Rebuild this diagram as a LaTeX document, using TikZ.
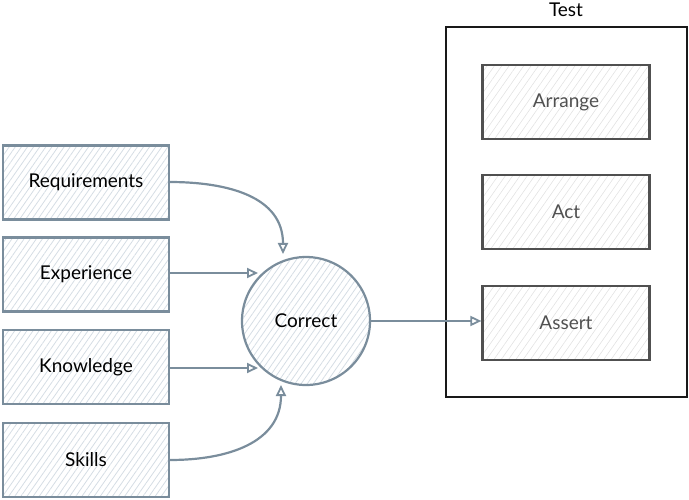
\documentclass[tikz,border=0pt]{standalone}
\usepackage{fontspec}
\setmainfont{Lato}
\usetikzlibrary{patterns.meta,arrows.meta}
\definecolor{slate}{HTML}{7A8D9C}
\definecolor{hatchL}{HTML}{D5DDE4}
\definecolor{hatchR}{HTML}{E2E2E2}
\definecolor{darkgr}{HTML}{505050}
\begin{document}
\begin{tikzpicture}[x=1pt,y=-1pt,
  lbl/.style={font=\fontsize{19}{22}\selectfont},
  srcbox/.style={lbl,draw=slate,line width=2.2pt,pattern={Lines[angle=55,distance=5pt,line width=0.8pt]},pattern color=hatchL,
    minimum width=166pt,minimum height=74pt,inner sep=0pt},
  stepbox/.style={lbl,draw=darkgr,line width=2.2pt,pattern={Lines[angle=55,distance=6pt,line width=0.6pt]},pattern color=hatchR,
    minimum width=167pt,minimum height=74pt,inner sep=0pt,text=darkgr},
  hub/.style={lbl,circle,draw=slate,line width=2.2pt,pattern={Lines[angle=55,distance=5pt,line width=0.8pt]},pattern color=hatchL,
    minimum size=128pt,inner sep=0pt},
  frame/.style={draw=black!90,line width=2.2pt,minimum width=241pt,minimum height=370pt,inner sep=0pt},
  conn/.style={draw=slate,line width=2.2pt,-{Triangle[open,length=11pt,width=10pt,line width=1.8pt]}},
]
\useasboundingbox (0,0) rectangle (689,500);
\node[frame] (test) at (566.5,212) {};
\node[lbl] (testlbl) at (566,10) {Test};
\node[stepbox] (arrange) at (566,102) {Arrange};
\node[stepbox] (act) at (566,212) {Act};
\node[stepbox] (assert) at (566,323) {Assert};

\node[srcbox] (req) at (86,182.5) {Requirements};
\node[srcbox] (exp) at (86,274.5) {Experience};
\node[srcbox] (know) at (86,367) {Knowledge};
\node[srcbox] (skills) at (86,460) {Skills};

\node[hub] (correct) at (306,321) {Correct};

\coordinate (reqend) at (283,254);
\coordinate (expend) at (258,273);
\coordinate (knowend) at (258,368);
\coordinate (skillsend) at (281,385);

\draw[conn] (req.east |- 0,182) to[out=0,in=90,looseness=1.1] (reqend);
\draw[conn] (exp.east |- 0,273) -- (expend);
\draw[conn] (know.east |- 0,368) -- (knowend);
\draw[conn] (skills.east |- 0,460) to[out=0,in=-90,looseness=1.1] (skillsend);
\draw[conn] (correct.east) -- (assert.west |- correct.east);
\end{tikzpicture}
\end{document}
